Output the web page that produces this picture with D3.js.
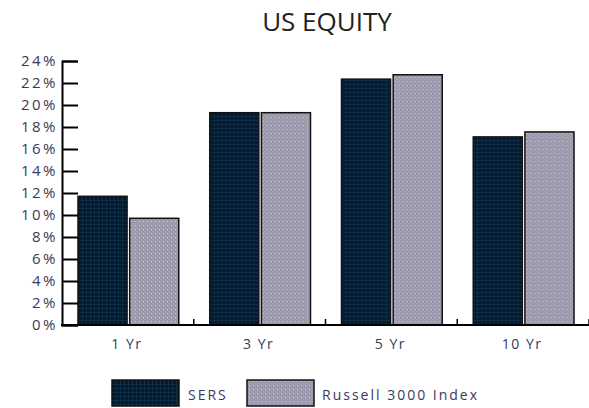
<!DOCTYPE html>
<html><head><meta charset="utf-8">
<script src="https://cdn.jsdelivr.net/npm/d3@7"></script>
<style>body{margin:0;background:#fff}svg{display:block}</style>
</head><body>
<svg id="c" width="589" height="408"></svg>
<script>
const categories = ["1 Yr", "3 Yr", "5 Yr", "10 Yr"];
const seriesNames = ["SERS", "Russell 3000 Index"];
const sersValues = [11.7, 19.3, 22.35, 17.1];
const russellValues = [9.7, 19.3, 22.75, 17.55];
const yTicks = [0, 2, 4, 6, 8, 10, 12, 14, 16, 18, 20, 22, 24];
const title = "US EQUITY";

const svg = d3.select("#c");
const defs = svg.append("defs");
const pd = defs.append("pattern").attr("id","pDark").attr("width",4).attr("height",4).attr("patternUnits","userSpaceOnUse");
pd.append("rect").attr("width",4).attr("height",4).attr("fill","#061638");
pd.append("rect").attr("x",0).attr("y",0).attr("width",4).attr("height",1).attr("fill","#0f2e40");
pd.append("rect").attr("x",0).attr("y",0).attr("width",1).attr("height",4).attr("fill","#0f2e40");
const pl = defs.append("pattern").attr("id","pLight").attr("width",4).attr("height",4).attr("patternUnits","userSpaceOnUse");
pl.append("rect").attr("width",4).attr("height",4).attr("fill","#9c99ac");
pl.append("rect").attr("x",1).attr("y",1).attr("width",1).attr("height",1).attr("fill","#d4d2da");
pl.append("rect").attr("x",3).attr("y",3).attr("width",1).attr("height",1).attr("fill","#c79ac8");

const x0 = d3.scaleBand().domain(categories).range([62, 589]);
const x1 = d3.scaleBand().domain(seriesNames).range([16, x0.bandwidth()-15]).paddingInner(0.05);
const y = d3.scaleLinear().domain([0, 24]).range([325, 61]);

const font = "Open Sans, sans-serif";
const txtCol = "#3a3a58";

svg.append("text").attr("x", 327).attr("y", 31).attr("text-anchor","middle")
  .attr("font-family",font).attr("font-size", 26).attr("fill","#222")
  .text(title);

const fills = {"SERS":"url(#pDark)","Russell 3000 Index":"url(#pLight)"};
const data = categories.map((c,i)=>({c, vals:[{s:seriesNames[0],v:sersValues[i]},{s:seriesNames[1],v:russellValues[i]}]}));
const g = svg.append("g");
g.selectAll("g.cat").data(data).join("g").attr("transform",d=>`translate(${x0(d.c)},0)`)
 .selectAll("rect").data(d=>d.vals).join("rect")
 .attr("x",d=>x1(d.s)).attr("width",x1.bandwidth())
 .attr("y",d=>y(d.v)).attr("height",d=>y(0)-y(d.v))
 .attr("fill",d=>fills[d.s]).attr("stroke","#111").attr("stroke-width",1.5);

// y axis
const ya = d3.axisRight(y).tickValues(yTicks).tickSize(16).tickFormat("");
const yg = svg.append("g").attr("transform","translate(62,0)").call(ya);
yg.select(".domain").attr("stroke","#000").attr("stroke-width",2);
yg.selectAll(".tick line").attr("stroke","#000").attr("stroke-width",2);
svg.append("g").selectAll("text").data(yTicks).join("text")
  .attr("x",58).attr("y",d=>y(d)+5).attr("text-anchor","end")
  .attr("font-family",font).attr("font-size",15).attr("letter-spacing",2.5).attr("fill",txtCol)
  .text(d=>d+"%");

// x axis
svg.append("line").attr("x1",61).attr("x2",589).attr("y1",y(0)).attr("y2",y(0)).attr("stroke","#000").attr("stroke-width",2);
svg.append("g").selectAll("line").data(categories).join("line")
  .attr("x1",d=>x0(d)+x0.bandwidth()).attr("x2",d=>x0(d)+x0.bandwidth())
  .attr("y1",y(0)).attr("y2",y(0)-6).attr("stroke","#000").attr("stroke-width",1.5);
svg.append("g").selectAll("text").data(categories).join("text")
  .attr("x",d=>x0(d)+x0.bandwidth()/2-1).attr("y",349).attr("text-anchor","middle")
  .attr("font-family",font).attr("font-size",14).attr("letter-spacing",1.5).attr("fill",txtCol)
  .text(d=>d);

// legend
const leg = [{s:seriesNames[0],x:112,tx:188},{s:seriesNames[1],x:247,tx:322}];
const lg = svg.append("g");
lg.selectAll("rect").data(leg).join("rect").attr("x",d=>d.x).attr("y",380).attr("width",67).attr("height",26)
  .attr("fill",d=>fills[d.s]).attr("stroke","#111").attr("stroke-width",1.5);
lg.selectAll("text").data(leg).join("text").attr("x",d=>d.tx).attr("y",400)
  .attr("font-family",font).attr("font-size",14).attr("letter-spacing",2).attr("fill",txtCol).text(d=>d.s);
</script>
</body></html>
